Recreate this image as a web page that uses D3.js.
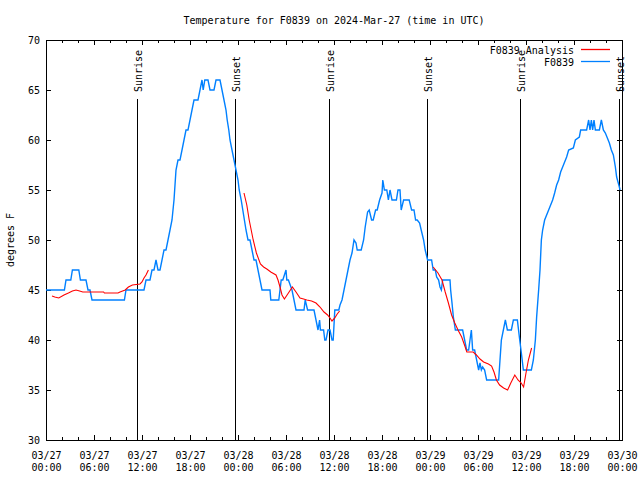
<!DOCTYPE html>
<html>
<head>
<meta charset="utf-8">
<script src="https://cdn.jsdelivr.net/npm/d3@7"></script>
<style>
  html, body { margin: 0; padding: 0; background: #fff; }
  svg { display: block; }
  text { font-family: "DejaVu Sans Mono", monospace; font-size: 10px; fill: #000; }
</style>
</head>
<body>
<svg id="chart" width="640" height="480"></svg>
<script>
// ---- data (hours since 2024-03-27 00:00 UTC, degrees F) ----
const title = "Temperature for F0839 on 2024-Mar-27 (time in UTC)";
const yLabel = "degrees F";
const seriesNames = ["F0839 Analysis", "F0839"];

const xTickHours = [0, 6, 12, 18, 24, 30, 36, 42, 48, 54, 60, 66, 72];
const xTickDates = ["03/27","03/27","03/27","03/27","03/28","03/28","03/28","03/28","03/29","03/29","03/29","03/29","03/30"];
const xTickTimes = ["00:00","06:00","12:00","18:00","00:00","06:00","12:00","18:00","00:00","06:00","12:00","18:00","00:00"];
const yTicks = [30, 35, 40, 45, 50, 55, 60, 65, 70];

const sunEvents = [
  { h: 11.41, label: "Sunrise" }, { h: 23.66, label: "Sunset" },
  { h: 35.41, label: "Sunrise" }, { h: 47.66, label: "Sunset" },
  { h: 59.29, label: "Sunrise" }, { h: 71.70, label: "Sunset" }
];

// Observed F0839 (blue)
const observed = [
  [0,45],[2.3,45],[2.5,46],[3.1,46],[3.3,47],[4.1,47],[4.3,46],[5.0,46],[5.25,45],[5.5,45],[5.75,44],
  [9.8,44],[10.0,45],[12.25,45],[12.5,46],[13.0,46],[13.25,47],[13.5,47],[13.75,48],[14.0,47],[14.25,47],
  [14.5,48],[14.75,49],[15.0,49],[15.25,50],[15.5,51],[15.75,52],[16.0,54],[16.25,57],[16.5,58],[16.75,58],
  [17.0,59],[17.25,60],[17.5,61],[17.75,61],[18.0,62],[18.25,63],[18.5,64],[19.0,64],[19.25,65],[19.5,66],
  [19.65,65],[19.85,66],[20.25,66],[20.5,65],[21.0,65],[21.25,66],[21.75,66],[22.0,65],[22.25,64],[22.5,63],
  [22.65,62],[22.85,61],[23.0,60],[23.25,59],[23.5,58],[23.75,57],[24.0,56],[24.15,55],[24.4,54],[24.6,53],
  [24.8,52],[25.0,51],[25.25,50],[25.5,50],[25.75,49],[26.0,48],[26.25,48],[26.5,47],[26.75,46],[27.0,45],
  [28.0,45],[28.1,44],[29.1,44],[29.25,45],[29.4,46],[29.6,46],[29.8,46.5],[30.0,47],[30.1,46],[30.3,46],
  [30.75,45],[31.0,44],[31.25,43],[32.25,43],[32.4,44],[32.7,43],[33.5,43],[33.75,42],[34.0,41],[34.2,42],
  [34.3,41],[34.7,41],[34.85,40],[35.0,40],[35.25,41],[35.5,41],[35.75,40],[35.9,40],[36.1,43],[36.6,43],
  [36.75,43.5],[37.0,44],[37.25,45],[37.5,46],[37.75,47],[38.0,48],[38.25,48.7],[38.5,50],[38.75,49.7],
  [38.9,49],[39.4,49],[39.7,50],[39.9,51.3],[40.2,52.8],[40.4,53],[40.7,52],[40.9,52],[41.2,53],[41.4,53],
  [41.7,54],[42.0,54.7],[42.1,56],[42.3,55],[42.6,55],[42.8,54],[43.0,55],[43.25,54],[43.8,54],[44.0,55],
  [44.25,55],[44.4,53],[44.7,54],[45.4,54],[45.7,53],[46.0,53],[46.2,52],[46.4,52],[46.7,51.7],[46.9,51],
  [47.2,50],[47.4,49],[47.7,48],[48.2,48],[48.4,47],[48.67,47],[48.83,46.3],[49.08,46],[49.25,45.3],
  [49.42,45],[49.58,46],[50.5,46],[50.58,45],[50.75,43.7],[50.92,42.3],[51.17,41],[52.08,41],[52.33,40],
  [52.58,39],[52.83,39],[53.0,40],[53.17,41],[53.33,39],[53.58,39],[53.83,38],[54.08,37],[54.25,37.7],
  [54.42,37],[54.58,37.3],[54.83,37],[55.08,36],[56.58,36],[56.75,38],[56.92,40],[57.17,41],[57.42,42],
  [57.67,41],[58.17,41],[58.42,42],[58.92,42],[59.17,40.3],[59.42,38.7],[59.67,37],[60.67,37],[60.92,38],
  [61.17,40],[61.33,42.3],[61.58,45],[61.75,47],[61.92,50],[62.08,51],[62.33,52],[62.83,53],[63.33,54],
  [63.58,54.7],[63.83,55.5],[64.08,56],[64.33,56.8],[64.58,57.3],[65.08,58.3],[65.33,59],[65.92,59.2],
  [66.17,60],[66.67,60.3],[66.83,61],[67.58,61],[67.83,62],[68.0,61],[68.17,62],[68.33,61],[68.5,62],
  [68.67,61],[69.17,61],[69.42,62],[69.67,61],[69.92,60.7],[70.17,60.2],[70.42,59.7],[70.67,59],
  [70.92,58.5],[71.17,57.3],[71.33,56.3],[71.5,55.8],[71.67,55.3],[71.75,55]
];

// Analysis (red), three separate runs
const analysis1 = [
  [0.75,44.4],[1.1,44.3],[1.6,44.2],[2.25,44.5],[2.8,44.7],[3.3,44.9],[3.75,45],[4.2,44.9],[4.6,44.8],
  [7.2,44.8],[7.3,44.7],[9.0,44.7],[9.25,44.8],[9.9,45],[10.3,45.3],[10.8,45.5],[11.75,45.6],[12.0,45.8],
  [12.25,46.2],[12.5,46.5],[12.8,47.0]
];
const analysis2 = [
  [24.75,54.7],[25.1,53.5],[25.4,52],[25.9,50],[26.3,48.7],[26.8,47.6],[27.2,47.3],[27.6,47.1],[28.1,46.8],
  [28.75,46.5],[29.0,46],[29.25,45.3],[29.5,44.5],[29.8,44.1],[30.3,44.7],[30.8,45.3],[31.25,44.8],
  [31.75,44.2],[32.2,44.1],[32.6,44],[33.2,43.9],[33.75,43.7],[34.25,43.3],[34.75,42.8],[35.2,42.5],
  [35.5,42.2],[35.75,41.9],[36.1,42.2],[36.4,42.6],[36.7,42.9]
];
const analysis3 = [
  [48.4,47.3],[48.6,47.1],[49.0,46.7],[49.5,46],[49.9,44.8],[50.3,43.7],[50.7,42.5],[51.1,41.7],[51.5,41],
  [51.96,40.3],[52.4,39.3],[52.6,38.8],[53.4,38.8],[53.8,38.5],[54.25,38.1],[54.7,37.8],[55.3,37.6],
  [55.7,37.4],[56.0,36.8],[56.3,36],[56.7,35.5],[57.2,35.2],[57.7,35],[58.1,35.7],[58.6,36.5],[59.0,36],
  [59.4,35.7],[59.7,35.3],[60.0,36.7],[60.3,38],[60.7,39.2]
];

const colors = { analysis: "#ff0000", observed: "#0080ff" };

// ---- drawing ----
const svg = d3.select("#chart");
const mLeft = 46, mRight = 622, mTop = 40, mBottom = 440;

const x = d3.scaleLinear().domain([0, 72]).range([mLeft, mRight]);
const y = d3.scaleLinear().domain([30, 70]).range([mBottom, mTop]);

svg.append("rect").attr("width", 640).attr("height", 480).attr("fill", "#fff");

const minorHours = d3.range(0, 73, 2);

// bottom ticks
svg.append("g").attr("transform", `translate(0,${mBottom})`)
  .call(d3.axisBottom(x).tickValues(minorHours).tickSizeInner(-3).tickSizeOuter(0).tickFormat(""))
  .call(g => g.select(".domain").remove());
const xb = svg.append("g").attr("transform", `translate(0,${mBottom})`)
  .call(d3.axisBottom(x).tickValues(xTickHours).tickSizeInner(-5).tickSizeOuter(0))
  .call(g => g.select(".domain").remove());
xb.selectAll(".tick text").each(function(d, i) {
  const t = d3.select(this);
  t.text(null).attr("dy", null).attr("y", null).attr("fill", "#000");
  t.append("tspan").attr("x", 0).attr("y", 19).text(xTickDates[i]);
  t.append("tspan").attr("x", 0).attr("y", 31).text(xTickTimes[i]);
});
// top ticks (mirror)
svg.append("g").attr("transform", `translate(0,${mTop})`)
  .call(d3.axisTop(x).tickValues(minorHours).tickSizeInner(-3).tickSizeOuter(0).tickFormat(""))
  .call(g => g.select(".domain").remove());
svg.append("g").attr("transform", `translate(0,${mTop})`)
  .call(d3.axisTop(x).tickValues(xTickHours).tickSizeInner(-5).tickSizeOuter(0).tickFormat(""))
  .call(g => g.select(".domain").remove());
// left axis
const yl = svg.append("g").attr("transform", `translate(${mLeft},0)`)
  .call(d3.axisLeft(y).tickValues(yTicks).tickSizeInner(-5).tickSizeOuter(0).tickPadding(6))
  .call(g => g.select(".domain").remove());
yl.selectAll(".tick text").attr("fill", "#000");
// right axis
svg.append("g").attr("transform", `translate(${mRight},0)`)
  .call(d3.axisRight(y).tickValues(yTicks).tickSizeInner(-5).tickSizeOuter(0).tickFormat(""))
  .call(g => g.select(".domain").remove());

svg.selectAll(".tick line").attr("stroke", "#000").attr("shape-rendering", "crispEdges");
svg.selectAll(".tick text").style("font-family", "'DejaVu Sans Mono', monospace").style("font-size", "10px");

// frame
svg.append("rect").attr("x", mLeft).attr("y", mTop).attr("width", mRight - mLeft).attr("height", mBottom - mTop)
  .attr("fill", "none").attr("stroke", "#000").attr("shape-rendering", "crispEdges");

// sunrise / sunset lines
const sun = svg.append("g");
sunEvents.forEach(e => {
  sun.append("line").attr("x1", x(e.h)).attr("x2", x(e.h)).attr("y1", 99).attr("y2", mBottom)
    .attr("stroke", "#000").attr("stroke-width", 1).attr("shape-rendering", "crispEdges");
  sun.append("text").attr("transform", `translate(${x(e.h) + 4.5},92) rotate(-90)`)
    .attr("text-anchor", "start").text(e.label);
});

const line = d3.line().x(d => x(d[0])).y(d => y(d[1]));

svg.append("path").datum(observed).attr("d", line)
  .attr("fill", "none").attr("stroke", colors.observed).attr("stroke-width", 1.4);
[analysis1, analysis2, analysis3].forEach(seg => {
  svg.append("path").datum(seg).attr("d", line)
    .attr("fill", "none").attr("stroke", colors.analysis).attr("stroke-width", 1.1);
});

// legend
const legend = [
  { name: seriesNames[0], color: colors.analysis, yy: 49.5 },
  { name: seriesNames[1], color: colors.observed, yy: 61.5 }
];
legend.forEach(l => {
  svg.append("text").attr("x", 574).attr("y", l.yy + 4).attr("text-anchor", "end").text(l.name);
  svg.append("line").attr("x1", 581).attr("x2", 610).attr("y1", l.yy).attr("y2", l.yy)
    .attr("stroke", l.color).attr("stroke-width", 1.3);
});

// title and y label
svg.append("text").attr("x", (mLeft + mRight) / 2).attr("y", 24).attr("text-anchor", "middle").text(title);
svg.append("text").attr("transform", `translate(14,${(mTop + mBottom) / 2}) rotate(-90)`)
  .attr("text-anchor", "middle").text(yLabel);
</script>
</body>
</html>
